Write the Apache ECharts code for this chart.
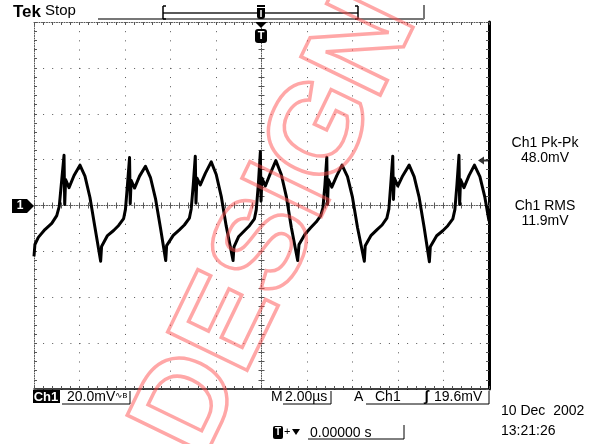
<!DOCTYPE html>
<html>
<head>
<meta charset="utf-8">
<script src="https://cdn.jsdelivr.net/npm/echarts@6/dist/echarts.min.js"></script>
<style>
  html, body { margin: 0; padding: 0; background: #fff; }
  #main { width: 603px; height: 444px; }
</style>
</head>
<body>
<div id="main"></div>
<script>
// time in microseconds (2.00us/div, 0 = trigger point)
const timeUs = [
  -10.0, -9.96, -9.81, -9.52, -9.22, -9.00, -8.89, -8.78, -8.68,
  -8.65, -8.61, -8.46, -8.24, -7.98, -7.76, -7.54, -7.32, -7.07,
  -7.03, -6.77, -6.50, -6.28, -6.06, -5.98, -5.89, -5.80,
  -5.77, -5.73, -5.58, -5.36, -5.10, -4.88, -4.66, -4.44, -4.21,
  -4.17, -3.88, -3.61, -3.39, -3.17, -3.09, -3.00, -2.91,
  -2.88, -2.84, -2.69, -2.47, -2.21, -1.99, -1.77, -1.55, -1.25,
  -1.21, -1.00, -0.75, -0.53, -0.31, -0.23, -0.14, -0.05,
  -0.02, 0.02, 0.17, 0.39, 0.63, 0.87, 1.09, 1.31, 1.59,
  1.65, 1.91, 2.15, 2.40, 2.60, 2.70, 2.79, 2.87,
  2.90, 2.94, 3.09, 3.31, 3.54, 3.78, 4.00, 4.22, 4.52,
  4.56, 4.82, 5.08, 5.30, 5.51, 5.60, 5.68, 5.77,
  5.80, 5.84, 5.99, 6.21, 6.49, 6.71, 6.93, 7.15, 7.38,
  7.42, 7.70, 7.97, 8.19, 8.41, 8.50, 8.59, 8.68,
  8.71, 8.75, 8.90, 9.12, 9.36, 9.60, 9.82, 10.0
];
// channel 1 in mV (20.0mV/div)
const ch1mV = [
  -22.2, -17.0, -13.9, -10.5, -7.8, -4.4, -0.4, 11.3, 21.9,
  0.4, 11.3, 7.8, 13.1, 17.6, 12.8, 3.5, -9.6, -24.3,
  -17.9, -13.1, -10.9, -8.7, -5.7, -1.7, 9.2, 20.9,
  0.8, 11.0, 7.6, 12.8, 17.1, 12.2, 3.0, -9.8, -24.0,
  -17.5, -13.0, -10.6, -8.5, -5.5, -1.5, 9.0, 21.5,
  1.0, 12.0, 9.0, 14.0, 19.0, 13.5, 4.0, -9.0, -24.0,
  -18.0, -13.5, -11.0, -8.8, -5.8, -1.8, 9.0, 23.4,
  1.9, 12.0, 8.5, 14.0, 19.6, 13.5, 4.0, -9.5, -24.0,
  -17.0, -12.5, -9.8, -7.2, -4.5, -1.0, 9.2, 21.0,
  0.4, 11.3, 8.0, 13.0, 17.6, 12.6, 3.5, -9.6, -24.3,
  -17.5, -13.0, -10.5, -8.5, -5.5, -1.5, 9.0, 21.5,
  2.6, 12.0, 8.5, 13.0, 17.6, 12.6, 3.5, -9.6, -24.5,
  -18.0, -13.2, -11.0, -8.8, -5.8, -1.8, 9.0, 21.9,
  0.4, 11.3, 7.8, 13.0, 17.6, 12.6, 3.5, -6.8
];
const trigLevel = 19.6;
const measLabels = ['Ch1 Pk-Pk', '48.0mV', 'Ch1 RMS', '11.9mV'];

const FONT = '"Liberation Sans", "DejaVu Sans", sans-serif';
const GRID = '#555';

var myChart = echarts.init(document.getElementById('main'));

function xAx(extra) {
  return Object.assign({
    type: 'value', min: -10, max: 10, interval: 2,
    axisLabel: { show: false },
    splitLine: { show: false },
    axisTick: { show: true, inside: true, length: 3, lineStyle: { color: GRID } },
    minorTick: { show: true, splitNumber: 5, length: 3, lineStyle: { color: GRID } },
    axisLine: { onZero: false, lineStyle: { color: GRID, width: 1 } }
  }, extra);
}
function yAx(extra) {
  return Object.assign({
    type: 'value', min: -80, max: 80, interval: 20,
    axisLabel: { show: false },
    splitLine: { show: false },
    axisTick: { show: true, inside: true, length: 3, lineStyle: { color: GRID } },
    minorTick: { show: true, splitNumber: 5, length: 3, lineStyle: { color: GRID } },
    axisLine: { onZero: false, lineStyle: { color: GRID, width: 1 } }
  }, extra);
}

function txt(x, y, s, size, extra) {
  return {
    type: 'text', x: x, y: y, z: 60,
    style: Object.assign({
      text: s, font: size + 'px ' + FONT, fill: '#000',
      textAlign: 'left', textVerticalAlign: 'middle'
    }, extra || {})
  };
}
function ln(x1, y1, x2, y2, w, c) {
  return {
    type: 'line', z: 50,
    shape: { x1: x1, y1: y1, x2: x2, y2: y2 },
    style: { stroke: c || '#000', lineWidth: w || 1 }
  };
}

var option = {
  animation: false,
  backgroundColor: '#fff',
  grid: { left: 34, right: 114, top: 22, bottom: 55, containLabel: false },
  xAxis: [
    // bottom border + vertical graticule
    xAx({
      position: 'bottom',
      axisLine: { onZero: false, lineStyle: { color: '#000', width: 1.5 } },
      splitLine: { show: true, lineStyle: { color: GRID, width: 1, type: [1, 8.175] } }
    }),
    // top border
    xAx({ position: 'top', axisLine: { onZero: false, lineStyle: { color: GRID, width: 1, type: [1, 1.5] } } }),
    // center line, ticks up
    xAx({ position: 'bottom', axisLine: { onZero: true, onZeroAxisIndex: 0, lineStyle: { color: GRID, width: 1, type: [1, 1.5] } } }),
    // center line, ticks down
    xAx({ position: 'bottom', axisTick: { show: true, inside: false, length: 3, lineStyle: { color: GRID } },
          axisLine: { show: false, onZero: true, onZeroAxisIndex: 0 } })
  ],
  yAxis: [
    // left border + horizontal graticule
    yAx({
      position: 'left',
      axisLine: { onZero: false, lineStyle: { color: GRID, width: 1, type: [1, 1.5] } },
      splitLine: { show: true, lineStyle: { color: GRID, width: 1, type: [1, 8.1] } }
    }),
    // right border
    yAx({ position: 'right', axisLine: { onZero: false, lineStyle: { color: '#000', width: 3 } } }),
    // center line, ticks right
    yAx({ position: 'left', axisLine: { onZero: true, onZeroAxisIndex: 0, lineStyle: { color: GRID, width: 1, type: [1, 1.5] } } }),
    // center line, ticks left
    yAx({ position: 'left', axisTick: { show: true, inside: false, length: 3, lineStyle: { color: GRID } },
          axisLine: { show: false, onZero: true, onZeroAxisIndex: 0 } })
  ],
  series: [
    {
      name: 'Ch1',
      type: 'line',
      xAxisIndex: 0, yAxisIndex: 0,
      data: timeUs.map(function (t, i) { return [t, ch1mV[i]]; }),
      showSymbol: false,
      lineStyle: { color: '#000', width: 3, join: 'round' },
      z: 10
    },
    {
      name: 'trigger',
      type: 'scatter',
      xAxisIndex: 0, yAxisIndex: 0,
      data: [[10, trigLevel]],
      symbol: 'path://M0,4 L6,0 L6,3 L10,3 L10,5 L6,5 L6,8 Z',
      symbolSize: [10, 8],
      symbolOffset: [-6, 0],
      itemStyle: { color: '#000' },
      z: 11
    }
  ],
  graphic: [
    // header
    txt(13, 12, 'Tek', 17, { font: 'bold 17px ' + FONT }),
    txt(45, 11, 'Stop', 15),
    ln(98, 19, 424, 19, 2, '#777'),
    ln(424, 5, 424, 19, 2, '#777'),
    ln(163, 13, 358, 13, 1.5, '#222'),
    ln(163, 6, 163, 19, 1.5, '#000'),
    ln(163, 6, 166, 6, 1.5, '#000'),
    ln(163, 19, 166, 19, 1.5, '#000'),
    ln(358, 6, 358, 19, 1.5, '#000'),
    ln(355, 6, 358, 6, 1.5, '#000'),
    ln(355, 19, 358, 19, 1.5, '#000'),
    { type: 'rect', z: 51, shape: { x: 257, y: 5, width: 8, height: 2 }, style: { fill: '#000' } },
    { type: 'rect', z: 51, shape: { x: 257, y: 8, width: 8, height: 11, r: [0, 0, 3, 3] }, style: { fill: '#000' } },
    { type: 'line', z: 52, shape: { x1: 261, y1: 10, x2: 261, y2: 17 }, style: { stroke: '#fff', lineWidth: 1.5 } },
    { type: 'polygon', z: 51, shape: { points: [[255, 22], [267, 22], [261, 28]] }, style: { fill: '#000' } },
    { type: 'rect', z: 51, shape: { x: 255, y: 29, width: 12, height: 14, r: 3 }, style: { fill: '#000' } },
    txt(261, 36, 'T', 11, { font: 'bold 11px ' + FONT, fill: '#fff', textAlign: 'center' }),
    // channel ground marker
    { type: 'polygon', z: 51, shape: { points: [[12, 199], [27, 199], [34, 206], [27, 213], [12, 213]] }, style: { fill: '#000' } },
    txt(20, 206, '1', 12, { font: 'bold 12px ' + FONT, fill: '#fff', textAlign: 'center' }),
    // measurements
    txt(545, 143, measLabels[0], 14, { textAlign: 'center' }),
    txt(545, 158, measLabels[1], 14, { textAlign: 'center' }),
    txt(545, 206, measLabels[2], 14, { textAlign: 'center' }),
    txt(545, 221, measLabels[3], 14, { textAlign: 'center' }),
    // bottom status line
    { type: 'rect', z: 51, shape: { x: 33, y: 390, width: 27, height: 13 }, style: { fill: '#000' } },
    txt(46, 397, 'Ch1', 13, { font: 'bold 13px ' + FONT, fill: '#fff', textAlign: 'center' }),
    txt(67, 397, '20.0mV', 14),
    txt(115, 396, '∿ʙ', 9),
    ln(62, 404, 130, 404, 1), ln(130, 391, 130, 404, 1),
    txt(271, 397, 'M', 14),
    txt(285, 397, '2.00µs', 14),
    ln(283, 404, 331, 404, 1), ln(331, 391, 331, 404, 1),
    txt(354, 397, 'A', 14),
    txt(375, 397, 'Ch1', 14),
    txt(424, 397, 'ʃ', 15, { font: 'bold 15px ' + FONT }),
    txt(434, 397, '19.6mV', 14),
    ln(366, 404, 489, 404, 1), ln(489, 391, 489, 404, 1),
    txt(501, 411, '10 Dec  2002', 14),
    txt(501, 431, '13:21:26', 14),
    { type: 'rect', z: 51, shape: { x: 273, y: 426, width: 10, height: 13, r: 2 }, style: { fill: '#000' } },
    txt(278, 432, 'T', 10, { font: 'bold 10px ' + FONT, fill: '#fff', textAlign: 'center' }),
    txt(284, 432, '+', 11),
    { type: 'polygon', z: 51, shape: { points: [[292, 429], [300, 429], [296, 435]] }, style: { fill: '#000' } },
    txt(310, 433, '0.00000 s', 14),
    ln(308, 439, 404, 439, 1), ln(404, 425, 404, 439, 1),
    // watermark
    {
      type: 'text', z: 100, x: 278, y: 225, rotation: 1.12,
      style: {
        text: 'DESIGN', font: 'bold 128px ' + FONT,
        fill: 'transparent', stroke: 'rgba(255,80,80,0.5)', lineWidth: 3.5,
        textAlign: 'center', textVerticalAlign: 'middle'
      }
    }
  ]
};

myChart.setOption(option);
</script>
</body>
</html>
